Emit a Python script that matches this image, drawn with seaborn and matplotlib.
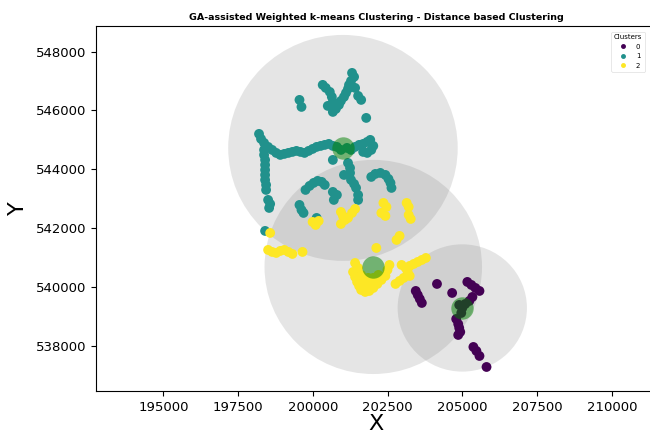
import numpy as np
import pandas as pd
import matplotlib
matplotlib.use("Agg")
import matplotlib.pyplot as plt
import seaborn as sns

# Cluster 0 sites (easting / northing)
x0 = [203438, 203505, 203573, 203641, 204148, 204655, 205163, 205298, 205433,
      205569, 205332, 205230, 205095, 204994, 204892, 204960, 204791, 204858,
      204892, 204926, 204858, 205366, 205467, 205569, 205805]
y0 = [539869, 539733, 539597, 539461, 540107, 539801, 540175, 540073, 539971,
      539869, 539665, 539529, 539427, 539291, 539393, 539121, 538917, 538747,
      538612, 538476, 538374, 537966, 537830, 537660, 537286]

# Cluster 1 sites
x1 = [201307, 201375, 201273, 201206, 201172, 201104, 201037, 200935, 200868,
      200766, 200665, 201409, 201510, 201612, 201781, 200326, 200428, 200563,
      200631, 200665, 200496, 199549, 199616,
      198196, 198263, 198365, 198500, 198635, 198771, 198906, 199041, 199177,
      199312, 199447, 199582, 199718, 199853, 199988, 200123, 200259, 200394,
      200529, 200665, 200800, 200935, 201138, 201273, 201409, 201544, 201679,
      201814, 201916, 202017, 201950, 201814, 201679,
      198365, 198365, 198399, 198399, 198399, 198399, 198399, 198432, 198432,
      198500, 198568, 198534, 198399,
      200665, 201172, 201240, 201240, 201037, 201273, 201375, 201441, 201510,
      201510,
      199751, 199887, 200022, 200157, 200293, 200394, 200665, 200800, 200698,
      199549, 199616, 199684, 200123,
      201950, 202085, 202254, 202423, 202525, 202592, 202626]
y1 = [547276, 547141, 547005, 546869, 546733, 546597, 546461, 546325, 546189,
      546053, 545951, 546767, 546495, 546359, 545747, 546869, 546767, 546631,
      546461, 546291, 546155, 546359, 546121,
      545204, 545034, 544898, 544762, 544660, 544558, 544490, 544524, 544558,
      544592, 544626, 544592, 544558, 544626, 544694, 544762, 544796, 544830,
      544864, 544796, 544762, 544660, 544728, 544660, 544762, 544830, 544864,
      544932, 545000, 544796, 544660, 544558, 544592,
      544660, 544490, 544320, 544150, 543980, 543810, 543641, 543471, 543301,
      542961, 542825, 542689, 541908,
      544320, 544218, 544048, 543878, 543810, 543641, 543505, 543369, 543131,
      542961,
      543301, 543437, 543539, 543607, 543573, 543471, 543233, 543131, 542961,
      542791, 542621, 542519, 542349,
      543743, 543844, 543878, 543810, 543675, 543539, 543369]

# Cluster 2 sites
x2 = [199988, 200090, 200191, 200935, 201003, 201070, 200935, 201172, 201307,
      201409, 202356, 202457, 203133, 203201, 202288, 202423, 203201, 203269,
      202795, 202897, 202119,
      198568, 198500, 198635, 198771, 198906, 199041, 199177, 199312, 199650,
      201409, 201510, 201341, 201409, 201476, 201544, 201612, 201747, 201882,
      202017, 202153, 202288, 202423, 202491, 202558, 201679, 201848, 202017,
      202187, 201747, 201950, 201612,
      202964, 203100, 203235, 203370, 203505, 203641, 203776, 203167, 203235,
      203032, 202897, 202761]
y2 = [542213, 542111, 542247, 542553, 542417, 542281, 542145, 542349, 542519,
      542655, 542859, 542723, 542859, 542723, 542519, 542417, 542451, 542315,
      541602, 541738, 541330,
      541840, 541262, 541194, 541160, 541228, 541262, 541194, 541126, 541194,
      540820, 540650, 540514, 540345, 540175, 540039, 539903, 539835, 539869,
      539971, 540107, 540243, 540379, 540582, 540752, 540243, 540311, 540311,
      540413, 540073, 540107, 540413,
      540752, 540650, 540718, 540786, 540854, 540922, 540990, 540514, 540379,
      540311, 540209, 540107]

# Weighted centroids of the three clusters
centroid_x = [204994, 201003, 202017]
centroid_y = [539291, 544728, 540684]

cluster_ids = [0, 1, 2]

df = pd.DataFrame({
    "X": x0 + x1 + x2,
    "Y": y0 + y1 + y2,
    "Cluster": [0] * len(x0) + [1] * len(x1) + [2] * len(x2),
})

fig = plt.figure(figsize=(6.5, 4.33), dpi=100)
ax = fig.add_axes([0.148, 0.097, 0.862, 0.843])

# Coverage circle of each cluster: radius = farthest member from its centroid
for cid, cx, cy in zip(cluster_ids, centroid_x, centroid_y):
    sub = df[df["Cluster"] == cid]
    r = np.sqrt((sub["X"] - cx) ** 2 + (sub["Y"] - cy) ** 2).max()
    ax.add_patch(plt.Circle((cx, cy), r, color="gray", alpha=0.2, lw=0, zorder=1))

sns.scatterplot(data=df, x="X", y="Y", hue="Cluster", palette="viridis",
                s=50, linewidth=0, ax=ax, zorder=2)

ax.scatter(centroid_x, centroid_y, s=260, color="green", alpha=0.5,
           linewidths=0, zorder=3)

ax.set_xlim(192750, 211490)
ax.set_ylim(536470, 548870)
ax.set_xticks(np.arange(195000, 210001, 2500))
ax.set_yticks(np.arange(538000, 548001, 2000))
ax.ticklabel_format(useOffset=False, style="plain")
ax.tick_params(labelsize=9.5)
ax.set_xlabel("X", fontsize=16, labelpad=0)
ax.set_ylabel("Y", fontsize=16, labelpad=6)
ax.set_title("GA-assisted Weighted k-means Clustering - Distance based Clustering",
             fontsize=6.8, fontweight="bold", pad=4)

leg = ax.legend(title="Clusters", loc="upper right", fontsize=5, title_fontsize=5,
                markerscale=0.5, bbox_to_anchor=(0.998, 0.935),
                bbox_transform=fig.transFigure, frameon=True)
leg.get_frame().set_linewidth(0.4)

fig.savefig("out.png", dpi=100)
